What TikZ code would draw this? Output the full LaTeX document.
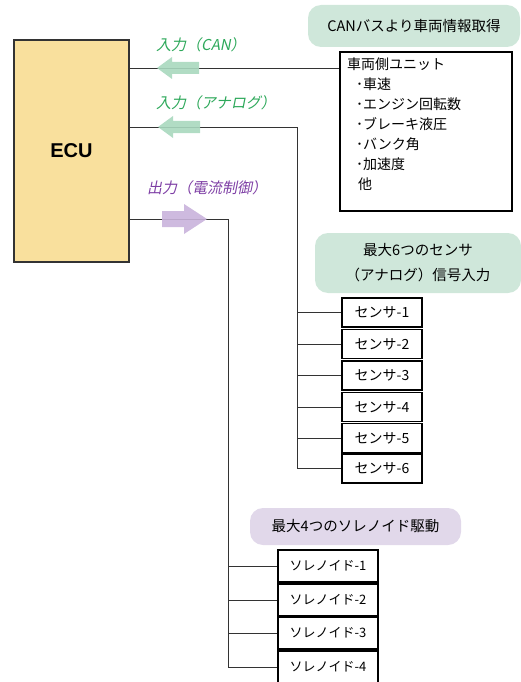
\documentclass[tikz,border=0pt]{standalone}
\usepackage{fontspec}
\setmainfont{Noto Sans CJK JP}
\newfontfamily\cjkit{Noto Sans CJK JP}[FakeSlant=0.2]
\newfontfamily\ecufont{Liberation Sans}
\definecolor{ecufill}{HTML}{F9E09D}
\definecolor{bubgreen}{HTML}{CFE7DA}
\definecolor{arrgreen}{HTML}{A8D8BE}
\definecolor{labgreen}{HTML}{2DA85A}
\definecolor{labpurple}{HTML}{7E3FA5}
\definecolor{arrpurple}{HTML}{C9B3DB}
\definecolor{bubpurple}{HTML}{E1D8EA}
\definecolor{linec}{HTML}{333333}
\begin{document}
\begin{tikzpicture}[x=1pt,y=-1pt,
  conn/.style={draw=linec,line width=0.9pt},
  boxs/.style={draw=black,line width=1.4pt,fill=white,inner sep=0pt,font=\fontsize{14}{15}\selectfont},
  sensorbox/.style={boxs,minimum width=80pt,minimum height=29pt},
  solbox/.style={boxs,minimum width=100pt,minimum height=32pt,font=\fontsize{13}{15}\selectfont},
  bubble/.style={rounded corners=13pt,inner sep=0pt,font=\fontsize{14.5}{25}\selectfont,align=center},
  lab/.style={anchor=west,inner sep=0pt,font=\cjkit\fontsize{15}{15}\selectfont}]
\useasboundingbox (0,0) rectangle (521,682);
% ECU
\node[draw=linec,line width=1.2pt,fill=ecufill,minimum width=115pt,minimum height=222pt,inner sep=0pt,font=\ecufont\bfseries\fontsize{20}{22}\selectfont] (ecu) at (71.5,151) {ECU};
% bubbles
\node[bubble,fill=bubgreen,minimum width=212pt,minimum height=42pt] (bub1) at (414,26) {CANバスより車両情報取得};
\node[bubble,fill=bubgreen,minimum width=206pt,minimum height=60pt] (bub2) at (418,263) {最大6つのセンサ\\（アナログ）信号入力};
\node[bubble,fill=bubpurple,minimum width=211pt,minimum height=37pt] (bub3) at (355.5,526.5) {最大4つのソレノイド駆動};
% unit box
\node[draw=black,line width=1.4pt,minimum width=172pt,minimum height=159pt,inner sep=0pt] (unit) at (426,131.5) {};
\node[anchor=north west,inner sep=0pt,align=left,font=\fontsize{14}{20}\selectfont] (unittxt) at (347,58) {車両側ユニット\\\hspace*{9pt}･車速\\\hspace*{9pt}･エンジン回転数\\\hspace*{9pt}･ブレーキ液圧\\\hspace*{9pt}･バンク角\\\hspace*{9pt}･加速度\\\hspace*{11pt}他};
% coordinates
\coordinate (canR) at (unit.west |- 0,68);
\coordinate (busS) at (297,127);
\coordinate (busO) at (228,219);
% sensors
\foreach \i/\y in {1/312.5,2/344,3/375.5,4/407,5/438,6/468.5}{
  \node[sensorbox] (s\i) at (382,\y) {センサ-\i};
}
\foreach \i/\y in {1/566,2/600,3/633,4/667}{
  \node[solbox] (o\i) at (328,\y) {ソレノイド-\i};
}
% connectors
\draw[conn] (ecu.east |- canR) -- (canR);
\draw[conn] (ecu.east |- busS) -- (busS) |- (s6.west);
\foreach \i in {1,...,5}{ \draw[conn] (busS |- s\i.west) -- (s\i.west); }
\draw[conn] (ecu.east |- busO) -- (busO) |- (o4.west);
\foreach \i in {1,...,3}{ \draw[conn] (busO |- o\i.west) -- (o\i.west); }
% arrows
\fill[arrgreen,opacity=0.9] (157,68) -- (172,57) -- (172,62) -- (199,62) -- (199,74) -- (172,74) -- (172,79) -- cycle;
\fill[arrgreen,opacity=0.9] (158,127) -- (173,116) -- (173,121) -- (200,121) -- (200,133) -- (173,133) -- (173,138) -- cycle;
\fill[arrpurple,opacity=0.9] (207,219) -- (184,204) -- (184,211) -- (162,211) -- (162,227) -- (184,227) -- (184,234) -- cycle;
% labels
\node[lab,text=labgreen] (lcan) at (156,45) {入力（CAN）};
\node[lab,text=labgreen] (lana) at (156,103) {入力（アナログ）};
\node[lab,text=labpurple] (lout) at (147,188) {出力（電流制御）};
\end{tikzpicture}
\end{document}
